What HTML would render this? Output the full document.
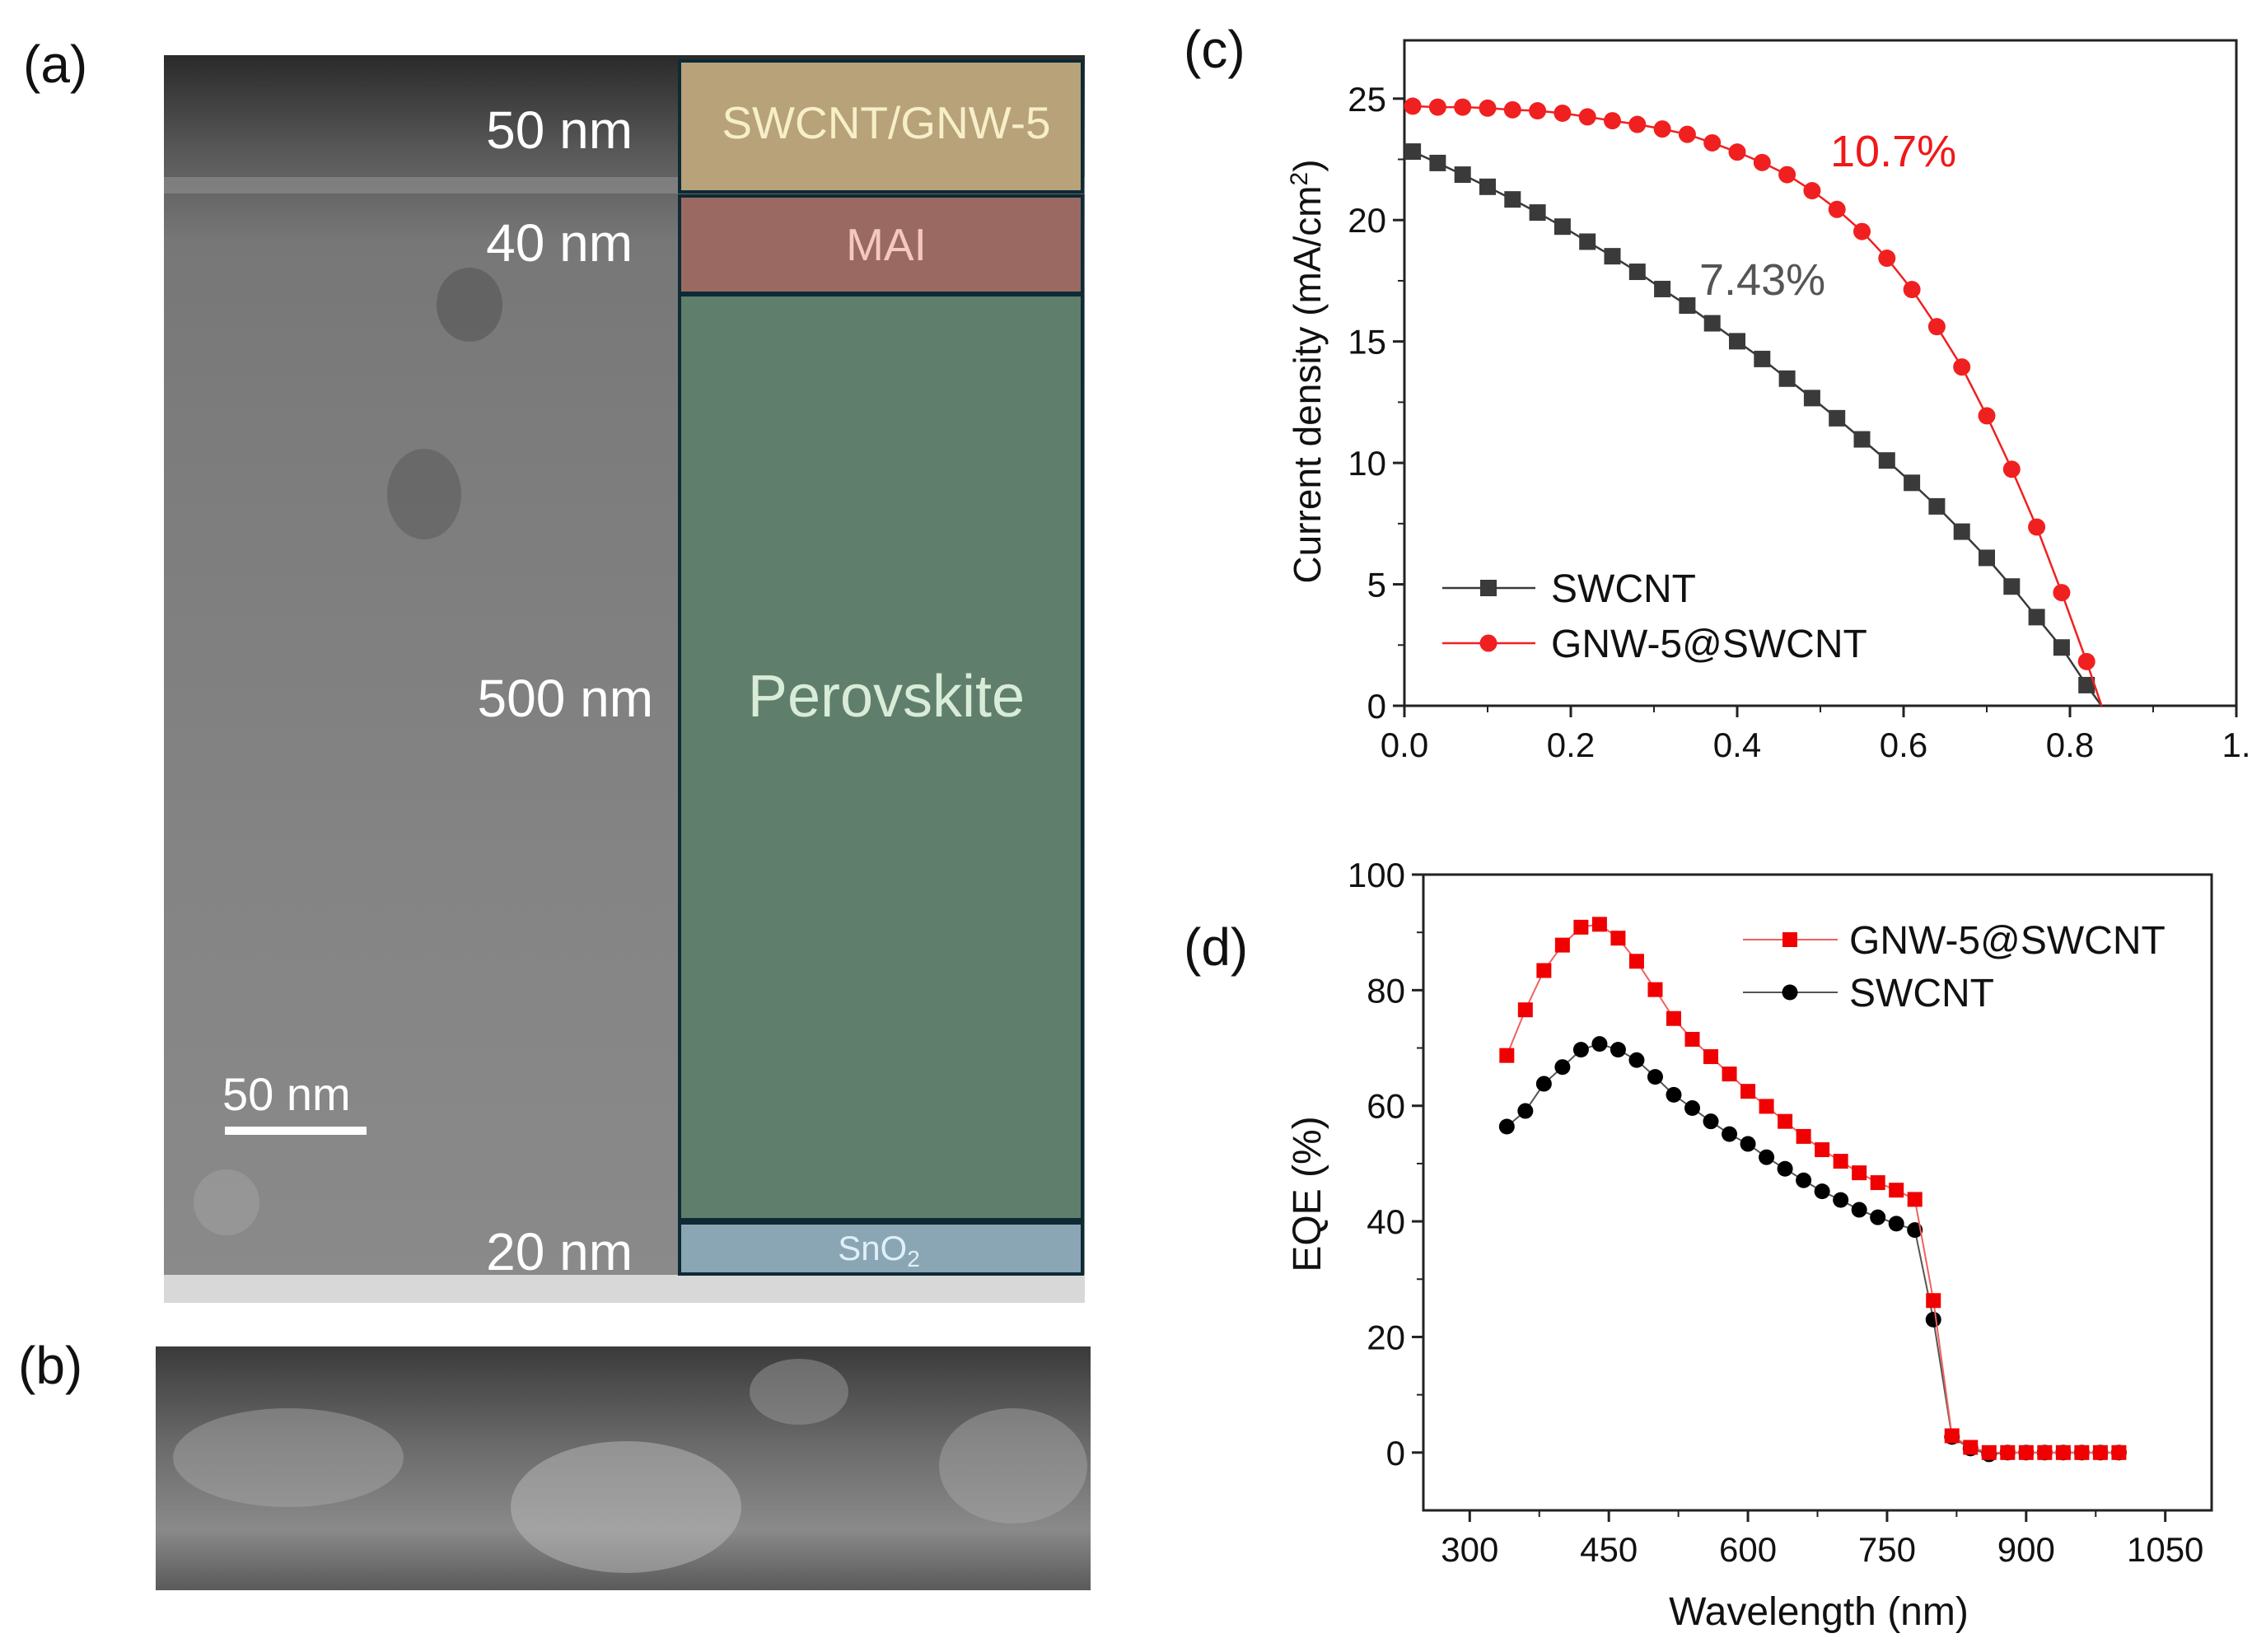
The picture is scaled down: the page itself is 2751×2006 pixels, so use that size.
<!DOCTYPE html>
<html><head><meta charset="utf-8"><style>
html,body{margin:0;padding:0;background:#fff;}
svg{display:block;font-family:"Liberation Sans",Arial,sans-serif;}
</style></head><body>
<svg id="fig" width="2751" height="2006" viewBox="0 0 2751 2006" xmlns="http://www.w3.org/2000/svg">
<defs>
<linearGradient id="gA" x1="0" y1="0" x2="0" y2="1">
<stop offset="0" stop-color="#2a2a2a"/><stop offset="0.08" stop-color="#5a5a5a"/><stop offset="0.15" stop-color="#777"/><stop offset="0.3" stop-color="#7c7c7c"/><stop offset="0.7" stop-color="#858585"/><stop offset="1" stop-color="#8a8a8a"/>
</linearGradient>
<linearGradient id="gB" x1="0" y1="0" x2="0" y2="1">
<stop offset="0" stop-color="#3a3a3a"/><stop offset="0.4" stop-color="#6a6a6a"/><stop offset="0.75" stop-color="#8a8a8a"/><stop offset="1" stop-color="#5a5a5a"/>
</linearGradient>
</defs>

<text x="28" y="100" font-size="64" fill="#111">(a)</text>
<text x="22" y="1680" font-size="64" fill="#111">(b)</text>
<text x="1437" y="82" font-size="64" fill="#111">(c)</text>
<text x="1437" y="1172" font-size="64" fill="#111">(d)</text>

<g>
<rect x="199" y="67" width="1118" height="1515" fill="url(#gA)"/>
<rect x="199" y="215" width="1118" height="20" fill="#9a9a9a" opacity="0.5"/>
<ellipse cx="515" cy="600" rx="45" ry="55" fill="#555" opacity="0.5"/>
<ellipse cx="570" cy="370" rx="40" ry="45" fill="#444" opacity="0.4"/>
<ellipse cx="275" cy="1460" rx="40" ry="40" fill="#aaa" opacity="0.4"/>
<rect x="199" y="1548" width="1118" height="34" fill="#d8d8d8"/>
<rect x="825" y="74" width="489" height="159" fill="#b8a27a" stroke="#0d2a35" stroke-width="4"/>
<rect x="825" y="238" width="489" height="118" fill="#9a6a62" stroke="#0d2a35" stroke-width="4"/>
<rect x="825" y="358" width="489" height="1123" fill="#5f7f6c" stroke="#0d2a35" stroke-width="4"/>
<rect x="825" y="1485" width="489" height="62" fill="#8aa6b4" stroke="#0d2a35" stroke-width="4"/>
<text x="768" y="180" font-size="64" fill="#fff" text-anchor="end">50 nm</text>
<text x="768" y="317" font-size="64" fill="#fff" text-anchor="end">40 nm</text>
<text x="793" y="870" font-size="64" fill="#fff" text-anchor="end">500 nm</text>
<text x="768" y="1542" font-size="64" fill="#fff" text-anchor="end">20 nm</text>
<text x="1076" y="168" font-size="55" fill="#f6efc8" text-anchor="middle">SWCNT/GNW-5</text>
<text x="1076" y="316" font-size="55" fill="#f4c8c0" text-anchor="middle">MAI</text>
<text x="1076" y="870" font-size="72" fill="#d8ecd8" text-anchor="middle">Perovskite</text>
<text x="1067" y="1530" font-size="42" fill="#e0f0f8" text-anchor="middle">SnO<tspan font-size="28" dy="8">2</tspan></text>
<text x="270" y="1348" font-size="56" fill="#fff">50 nm</text>
<rect x="273" y="1368" width="172" height="10" fill="#fff"/>
</g>

<g>
<rect x="189" y="1635" width="1135" height="296" fill="url(#gB)"/>
<ellipse cx="350" cy="1770" rx="140" ry="60" fill="#aaa" opacity="0.45"/>
<ellipse cx="760" cy="1830" rx="140" ry="80" fill="#bbb" opacity="0.5"/>
<ellipse cx="970" cy="1690" rx="60" ry="40" fill="#999" opacity="0.5"/>
<ellipse cx="1230" cy="1780" rx="90" ry="70" fill="#aaa" opacity="0.45"/>
</g>

<g id="chartC" transform="translate(-9,-4)"></g>
<g id="chartD" transform="translate(-9,-5)"></g>
</svg>
<script>
const jvVoltage = [0.01,0.04,0.07,0.10,0.13,0.16,0.19,0.22,0.25,0.28,0.31,0.34,0.37,0.40,0.43,0.46,0.49,0.52,0.55,0.58,0.61,0.64,0.67,0.70,0.73,0.76,0.79,0.82];
const jvSwcnt = [22.82,22.35,21.87,21.37,20.85,20.31,19.73,19.11,18.51,17.87,17.16,16.48,15.75,15.01,14.28,13.47,12.67,11.84,10.97,10.10,9.18,8.21,7.17,6.09,4.91,3.65,2.40,0.85];
const jvGnw = [24.69,24.65,24.65,24.61,24.54,24.50,24.40,24.25,24.09,23.94,23.75,23.53,23.18,22.80,22.37,21.87,21.21,20.44,19.53,18.43,17.14,15.61,13.95,11.94,9.74,7.36,4.66,1.82];
const jvVoc = [0.838, 0.838];
const jvYTicks = [0,5,10,15,20,25];
const jvXTicks = ["0.0","0.2","0.4","0.6","0.8","1."];
const eqeWavelength = [340,360,380,400,420,440,460,480,500,520,540,560,580,600,620,640,660,680,700,720,740,760,780,800,820,840,860,880,900,920,940,960,980,1000];
const eqeGnw = [68.7,76.6,83.4,87.8,90.9,91.4,89.0,85.0,80.1,75.1,71.5,68.5,65.5,62.5,59.9,57.3,54.7,52.4,50.4,48.4,46.7,45.4,43.8,26.3,2.9,0.9,0,0,0,0,0,0,0,0];
const eqeSwcnt = [56.4,59.1,63.8,66.7,69.7,70.7,69.7,67.9,65.0,61.9,59.6,57.3,55.1,53.4,51.1,49.1,47.1,45.2,43.7,42.0,40.7,39.6,38.5,23.0,2.7,0.7,-0.3,0,0,0,0,0,0,0];
const eqeYTicks = [0,20,40,60,80,100];
const eqeXTicks = [300,450,600,750,900,1050];

const NS = "http://www.w3.org/2000/svg";
function mk(parent, tag, attrs, text) {
  const e = document.createElementNS(NS, tag);
  for (const k in attrs) e.setAttribute(k, attrs[k]);
  if (text !== undefined) e.textContent = text;
  parent.appendChild(e);
  return e;
}

(function(){
  const g = document.getElementById('chartC');
  const L=1714, R=2724, T=53, B=861;
  const x = v => L + (v-0)/(1.0-0)*(R-L);
  const y = v => B - (v-0)/(27.4-0)*(B-T);
  const frame = mk(g,'rect',{x:L,y:T,width:R-L,height:B-T,fill:'none',stroke:'#222','stroke-width':3});
  
  
  jvYTicks.forEach(v=>{
    mk(g,'line',{x1:L-14,x2:L,y1:y(v),y2:y(v),stroke:'#222','stroke-width':3});
    const t = mk(g,'text',{x:L-22,y:y(v)+15,'font-size':42,'text-anchor':'end',fill:'#111'},String(v));
    
    
  });
  for (let v=2.5; v<27.4; v+=5) mk(g,'line',{x1:L-8,x2:L,y1:y(v),y2:y(v),stroke:'#222','stroke-width':2});
  jvXTicks.forEach(s=>{
    const v = parseFloat(s);
    mk(g,'line',{x1:x(v),x2:x(v),y1:B,y2:B+14,stroke:'#222','stroke-width':3});
    const t = mk(g,'text',{x:x(v),y:B+62,'font-size':42,'text-anchor':'middle',fill:'#111'},s);
    
    
  });
  for (let v=0.1; v<1.0; v+=0.2) mk(g,'line',{x1:x(v),x2:x(v),y1:B,y2:B+8,stroke:'#222','stroke-width':2});
  const yt = mk(g,'text',{x:0,y:0,'font-size':46,'text-anchor':'middle',fill:'#111',transform:`translate(1612,455) rotate(-90)`});
  yt.innerHTML = 'Current density (mA/cm<tspan font-size="30" dy="-16">2</tspan><tspan dy="16">)</tspan>';
  
  

  function series(vals, color, shape, name, width){
    const pts = jvVoltage.map((v,i)=>[x(v),y(vals[i])]);
    pts.push([x(jvVoc[0]), y(0)]);
    const p = mk(g,'polyline',{points:pts.map(p=>p.join(',')).join(' '),fill:'none',stroke:color,'stroke-width':width});
    
    
    jvVoltage.forEach((v,i)=>{
      let m;
      if (shape==='sq') m = mk(g,'rect',{x:x(v)-10,y:y(vals[i])-10,width:20,height:20,fill:color});
      else m = mk(g,'circle',{cx:x(v),cy:y(vals[i]),r:10.5,fill:color});
      
      
    });
  }
  series(jvSwcnt,'#3a3a3a','sq','swcnt-jv',2.5);
  series(jvGnw,'#f02020','ci','gnw-jv',2.5);

  const a1 = mk(g,'text',{x:2231,y:206,'font-size':54,fill:'#f01818'},'10.7%');
  
  
  const a2 = mk(g,'text',{x:2072,y:362,'font-size':54,fill:'#555'},'7.43%');
  
  

  mk(g,'line',{x1:1760,x2:1873,y1:718,y2:718,stroke:'#3a3a3a','stroke-width':2.5});
  mk(g,'rect',{x:1806,y:708,width:20,height:20,fill:'#3a3a3a'});
  const l1 = mk(g,'text',{x:1892,y:735,'font-size':48,fill:'#111'},'SWCNT');
  
  
  mk(g,'line',{x1:1760,x2:1873,y1:785,y2:785,stroke:'#f02020','stroke-width':2.5});
  mk(g,'circle',{cx:1816,cy:785,r:10.5,fill:'#f02020'});
  const l2 = mk(g,'text',{x:1892,y:802,'font-size':48,fill:'#111'},'GNW-5@SWCNT');
  
  
})();

(function(){
  const g = document.getElementById('chartD');
  const L=1737, R=2694, T=1067, B=1839;
  const x = v => L + (v-250)/(1100-250)*(R-L);
  const y = v => B - (v-(-10))/(100-(-10))*(B-T);
  const frame = mk(g,'rect',{x:L,y:T,width:R-L,height:B-T,fill:'none',stroke:'#222','stroke-width':3});
  
  
  eqeYTicks.forEach(v=>{
    mk(g,'line',{x1:L-14,x2:L,y1:y(v),y2:y(v),stroke:'#222','stroke-width':3});
    const t = mk(g,'text',{x:L-22,y:y(v)+15,'font-size':42,'text-anchor':'end',fill:'#111'},String(v));
    
    
  });
  for (let v=10; v<100; v+=20) mk(g,'line',{x1:L-8,x2:L,y1:y(v),y2:y(v),stroke:'#222','stroke-width':2});
  eqeXTicks.forEach(v=>{
    mk(g,'line',{x1:x(v),x2:x(v),y1:B,y2:B+14,stroke:'#222','stroke-width':3});
    const t = mk(g,'text',{x:x(v),y:B+62,'font-size':42,'text-anchor':'middle',fill:'#111'},String(v));
    
    
  });
  for (let v=375; v<1100; v+=150) mk(g,'line',{x1:x(v),x2:x(v),y1:B,y2:B+8,stroke:'#222','stroke-width':2});
  const xt = mk(g,'text',{x:2217,y:1978,'font-size':48,'text-anchor':'middle',fill:'#111'},'Wavelength (nm)');
  
  
  const yt = mk(g,'text',{x:0,y:0,'font-size':48,'text-anchor':'middle',fill:'#111',transform:'translate(1612,1455) rotate(-90)'},'EQE (%)');
  
  

  function series(vals,color,lineColor,shape,name){
    const p = mk(g,'polyline',{points:eqeWavelength.map((v,i)=>x(v)+','+y(vals[i])).join(' '),fill:'none',stroke:lineColor,'stroke-width':2});
    
    
    eqeWavelength.forEach((v,i)=>{
      let m;
      if (shape==='sq') m = mk(g,'rect',{x:x(v)-9,y:y(vals[i])-9,width:18,height:18,fill:color});
      else m = mk(g,'circle',{cx:x(v),cy:y(vals[i]),r:9.5,fill:color});
      
      
    });
  }
  series(eqeSwcnt,'#000','#555','ci','swcnt-eqe');
  series(eqeGnw,'#f00000','#f06060','sq','gnw-eqe');

  mk(g,'line',{x1:2125,x2:2240,y1:1146,y2:1146,stroke:'#f06060','stroke-width':2});
  mk(g,'rect',{x:2173,y:1137,width:18,height:18,fill:'#f00000'});
  const l1 = mk(g,'text',{x:2254,y:1163,'font-size':48,fill:'#111'},'GNW-5@SWCNT');
  
  
  mk(g,'line',{x1:2125,x2:2240,y1:1210,y2:1210,stroke:'#555','stroke-width':2});
  mk(g,'circle',{cx:2182,cy:1210,r:9.5,fill:'#000'});
  const l2 = mk(g,'text',{x:2254,y:1227,'font-size':48,fill:'#111'},'SWCNT');
  
  
})();
</script>
</body></html>
